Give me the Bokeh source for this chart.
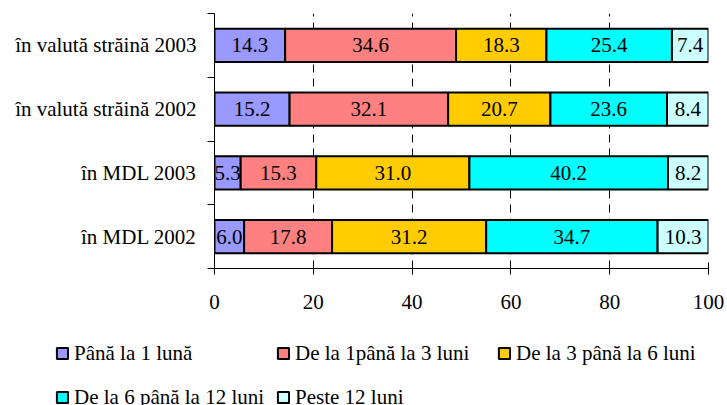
from bokeh.plotting import figure
from bokeh.layouts import column
from bokeh.models import ColumnDataSource, FixedTicker, Legend, LegendItem, Range1d
from bokeh.core.properties import value
from bokeh.embed import file_html
from bokeh.resources import INLINE
import numpy as np

# ---- data (bottom to top) ----
categories = ["în MDL 2002", "în MDL 2003", "în valută străină 2002", "în valută străină 2003"]
series_names = ["Până la 1 lună", "De la 1până la 3 luni", "De la 3 până la 6 luni",
                "De la 6 până la 12 luni", "Peste 12 luni"]
s_pana_1 = [6.0, 5.3, 15.2, 14.3]
s_1_3 = [17.8, 15.3, 32.1, 34.6]
s_3_6 = [31.2, 31.0, 20.7, 18.3]
s_6_12 = [34.7, 40.2, 23.6, 25.4]
s_peste_12 = [10.3, 8.2, 8.4, 7.4]
x_ticks = [0, 20, 40, 60, 80, 100]
colors = ["#9999FF", "#FF8080", "#FFCC00", "#00FFFF", "#CCFFFF"]

series = [s_pana_1, s_1_3, s_3_6, s_6_12, s_peste_12]
keys = ["s0", "s1", "s2", "s3", "s4"]
ypos = [i + 0.5 for i in range(len(categories))]

data = {"y": ypos}
for k, s in zip(keys, series):
    data[k] = s
source = ColumnDataSource(data)

FONT = "Liberation Serif"

p = figure(width=727, height=320, x_range=Range1d(0, 100), y_range=Range1d(0, len(categories)),
           output_backend="svg", toolbar_location=None, frame_align=False,
           min_border_left=214, min_border_right=19, min_border_top=13, min_border_bottom=52)
p.outline_line_color = None
p.background_fill_color = "white"

renderers = p.hbar_stack(keys, y="y", height=0.52, fill_color=colors, line_color="black",
                         line_width=2, source=source)

# value labels
arr = np.array(series)
cums = np.cumsum(arr, axis=0)
for i in range(len(series)):
    mids = cums[i] - arr[i] / 2.0
    p.text(x=list(mids), y=ypos, text=[f"{v:.1f}" for v in series[i]],
           text_align="center", text_baseline="middle",
           text_font=value(FONT), text_font_size="21px", text_color="black")

# x axis
xa = p.xaxis[0]
xa.ticker = FixedTicker(ticks=x_ticks)
xa.axis_line_color = "black"
xa.axis_line_width = 1
xa.major_tick_in = 6
xa.major_tick_out = 6
xa.major_tick_line_color = "black"
xa.minor_tick_line_color = None
xa.major_label_text_font = FONT
xa.major_label_text_font_size = "21px"
xa.major_label_text_color = "black"
xa.major_label_standoff = 20

# y axis
ya = p.yaxis[0]
ya.ticker = FixedTicker(ticks=ypos, minor_ticks=list(range(len(categories) + 1)))
ya.major_label_overrides = {y: c for y, c in zip(ypos, categories)}
ya.axis_line_color = "black"
ya.major_tick_in = 0
ya.major_tick_out = 0
ya.minor_tick_in = 0
ya.minor_tick_out = 7
ya.minor_tick_line_color = "black"
ya.major_label_text_font = FONT
ya.major_label_text_font_size = "21px"
ya.major_label_text_color = "black"
ya.major_label_standoff = 11

# grid
p.ygrid.visible = False
p.xgrid.ticker = FixedTicker(ticks=x_ticks[1:])
p.xgrid.grid_line_color = "black"
p.xgrid.grid_line_dash = "8 6"
p.xgrid.grid_line_width = 1
p.xgrid.level = "underlay"

# legend panel: a second figure whose frame spans the whole strip below the chart.
# Its ranges lie far away from the data, so the stacked bars there only feed the legend glyphs.
q = figure(width=727, height=85, x_range=Range1d(-5100, -5000), y_range=Range1d(5000, 5085),
           output_backend="svg", toolbar_location=None, frame_align=False,
           x_axis_location=None, y_axis_location=None,
           min_border_left=0, min_border_right=0, min_border_top=0, min_border_bottom=0)
q.grid.visible = False
q.outline_line_color = None
q.background_fill_color = "white"
q.border_fill_color = "white"
leg_renderers = q.hbar_stack(keys, y="y", height=0.52, fill_color=colors, line_color="black",
                             line_width=2, source=source)
# column-major filling of a 3-column grid: this order reads row by row
order = [0, 3, 1, 4, 2]
items = [LegendItem(label=series_names[i], renderers=[leg_renderers[i]]) for i in order]
legend = Legend(items=items, ncols=3, location=(55, -11),
                glyph_width=14, glyph_height=14, label_standoff=5, spacing=6,
                label_width=196, label_height=38, padding=0, margin=0,
                label_text_font=FONT, label_text_font_size="21px", label_text_color="black",
                border_line_color=None, background_fill_alpha=0)
q.add_layout(legend, "center")

layout = column(p, q, spacing=0)
open("out.html", "w").write(file_html(layout, INLINE))
